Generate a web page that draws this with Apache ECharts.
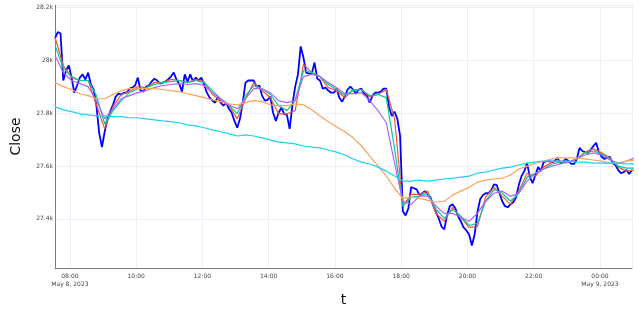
<!DOCTYPE html>
<html>
<head>
<meta charset="utf-8">
<script src="https://cdn.jsdelivr.net/npm/echarts@6/dist/echarts.min.js"></script>
<style>
  html, body { margin: 0; padding: 0; background: #fff; }
  #chart { width: 639px; height: 309px; }
</style>
</head>
<body>
<div id="chart"></div>
<script>
// 5 minute closes, starting 2023-05-08 07:33 (UTC)
const closeValues = [
    28084, 28107, 28103, 27924, 27962, 27981, 27935, 27878, 27905, 27935,
    27947, 27928, 27954, 27909, 27890, 27829, 27726, 27672, 27730, 27779,
    27806, 27832, 27863, 27874, 27871, 27878, 27878, 27893, 27897, 27905,
    27935, 27886, 27882, 27901, 27905, 27920, 27931, 27924, 27912, 27916,
    27920, 27928, 27939, 27954, 27928, 27912, 27882, 27947, 27920, 27947,
    27920, 27935, 27924, 27935, 27909, 27878, 27859, 27848, 27840, 27863,
    27840, 27829, 27840, 27817, 27802, 27771, 27745, 27779, 27840, 27916,
    27924, 27924, 27924, 27901, 27905, 27867, 27848, 27851, 27863, 27802,
    27771, 27802, 27821, 27798, 27794, 27741, 27832, 27901, 27947, 28053,
    28011, 27954, 27950, 27950, 27992, 27931, 27924, 27893, 27897, 27886,
    27878, 27878, 27893, 27859, 27844, 27863, 27890, 27901, 27890, 27874,
    27890, 27893, 27874, 27867, 27840, 27867, 27878, 27878, 27882, 27893,
    27893, 27825, 27790, 27806, 27779, 27714, 27429, 27413, 27440, 27520,
    27516, 27512, 27490, 27497, 27505, 27493, 27482, 27451, 27425, 27402,
    27371, 27360, 27413, 27448, 27455, 27440, 27410, 27391, 27368, 27356,
    27341, 27299, 27341, 27425, 27474, 27490, 27497, 27497, 27509, 27531,
    27528, 27497, 27467, 27448, 27444, 27455, 27463, 27482, 27528, 27562,
    27581, 27611, 27558, 27535, 27566, 27596, 27581, 27615, 27619, 27619,
    27615, 27619, 27631, 27611, 27615, 27627, 27619, 27608, 27608, 27627,
    27669, 27657, 27653, 27650, 27661, 27676, 27688, 27653, 27635, 27627,
    27631, 27635, 27611, 27604, 27585, 27573, 27577, 27585, 27570, 27585
];

// smoothed lines, read every 15 minutes from the same start
const redLine = [
    28088, 27981, 27935, 27924, 27924, 27832, 27741, 27825, 27871, 27882,
    27901, 27897, 27916, 27916, 27928, 27924, 27916, 27928, 27920, 27871,
    27848, 27829, 27779, 27855, 27916, 27886, 27859, 27798, 27798, 27810,
    27985, 27954, 27939, 27897, 27886, 27859, 27890, 27890, 27863, 27871,
    27890, 27779, 27448, 27493, 27493, 27505, 27421, 27391, 27444, 27406,
    27368, 27371, 27482, 27520, 27486, 27455, 27505, 27573, 27562, 27596,
    27615, 27619, 27615, 27627, 27653, 27665, 27650, 27631, 27596, 27581,
    27585
];
const greenLine = [
    28057, 27970, 27939, 27924, 27924, 27867, 27760, 27810, 27848, 27878,
    27893, 27897, 27909, 27916, 27920, 27924, 27916, 27924, 27916, 27886,
    27855, 27832, 27798, 27867, 27905, 27893, 27871, 27829, 27810, 27848,
    27962, 27954, 27939, 27909, 27890, 27867, 27886, 27890, 27867, 27871,
    27859, 27665, 27448, 27482, 27486, 27497, 27436, 27402, 27436, 27410,
    27375, 27383, 27467, 27512, 27497, 27467, 27497, 27558, 27573, 27589,
    27608, 27615, 27615, 27627, 27650, 27657, 27646, 27627, 27600, 27592,
    27592
];
const purpleLine = [
    28019, 27954, 27924, 27912, 27901, 27848, 27779, 27817, 27855, 27867,
    27878, 27886, 27897, 27905, 27909, 27912, 27909, 27912, 27905, 27878,
    27855, 27832, 27817, 27855, 27893, 27893, 27878, 27848, 27840, 27848,
    27939, 27947, 27939, 27916, 27897, 27874, 27874, 27878, 27848, 27810,
    27764, 27611, 27467, 27455, 27486, 27486, 27448, 27421, 27421, 27406,
    27391, 27421, 27467, 27497, 27505, 27486, 27497, 27543, 27573, 27589,
    27600, 27608, 27615, 27627, 27642, 27650, 27642, 27623, 27611, 27619,
    27631
];
const orangeLine = [
    27916, 27901, 27890, 27874, 27867, 27855, 27855, 27871, 27886, 27893,
    27893, 27893, 27893, 27890, 27886, 27882, 27874, 27867, 27859, 27851,
    27844, 27836, 27832, 27840, 27848, 27844, 27832, 27829, 27829, 27836,
    27832, 27813, 27790, 27768, 27749, 27730, 27707, 27676, 27638, 27600,
    27562, 27516, 27478, 27482, 27478, 27470, 27463, 27467, 27490, 27505,
    27520, 27539, 27547, 27551, 27554, 27566, 27589, 27600, 27611, 27619,
    27627, 27631, 27631, 27631, 27627, 27623, 27619, 27611, 27611, 27619,
    27623
];
const cyanLine = [
    27825, 27813, 27806, 27798, 27794, 27790, 27790, 27787, 27787, 27783,
    27783, 27779, 27775, 27771, 27768, 27764, 27756, 27752, 27745, 27737,
    27730, 27722, 27714, 27718, 27714, 27707, 27699, 27691, 27688, 27684,
    27676, 27672, 27669, 27661, 27653, 27642, 27627, 27615, 27608, 27596,
    27581, 27562, 27543, 27543, 27547, 27543, 27547, 27551, 27554, 27558,
    27562, 27573, 27577, 27585, 27592, 27596, 27604, 27611, 27615, 27619,
    27619, 27619, 27619, 27615, 27615, 27611, 27611, 27611, 27611, 27608,
    27608
];

const START = Date.UTC(2023, 4, 8, 7, 33);
const MIN = 60 * 1000;
const closeTimes = closeValues.map((_, i) => START + i * 5 * MIN);
const maTimes = redLine.map((_, i) => START + i * 15 * MIN);

const MONTHS = ['Jan', 'Feb', 'Mar', 'Apr', 'May', 'Jun', 'Jul', 'Aug', 'Sep', 'Oct', 'Nov', 'Dec'];
const pad = n => (n < 10 ? '0' : '') + n;

function makeLine(name, times, values, color, width) {
    return {
        name: name,
        type: 'line',
        data: values.map((v, i) => [times[i], v]),
        showSymbol: false,
        symbol: 'none',
        lineStyle: { color: color, width: width },
        itemStyle: { color: color }
    };
}

const chart = echarts.init(document.getElementById('chart'), null, { renderer: 'canvas' });

const option = {
    animation: false,
    useUTC: true,
    backgroundColor: '#ffffff',
    grid: { left: 55, right: 7, top: 5, bottom: 41, outerBoundsMode: 'none' },
    xAxis: {
        type: 'time',
        min: closeTimes[0],
        max: closeTimes[closeTimes.length - 1],
        splitNumber: 6,
        name: 't',
        nameLocation: 'middle',
        nameGap: 20,
        nameTextStyle: { fontFamily: 'DejaVu Sans', fontSize: 14, color: '#111' },
        axisLine: { show: true, lineStyle: { color: '#7f7f7f', width: 1 } },
        axisTick: { show: false },
        splitLine: { show: true, lineStyle: { color: '#ebf0f8', width: 1 } },
        axisLabel: {
            showMinLabel: false,
            showMaxLabel: false,
            fontFamily: 'DejaVu Sans',
            fontSize: 6,
            color: '#444',
            margin: 4,
            lineHeight: 8,
            formatter: function (val) {
                const d = new Date(val);
                const h = d.getUTCHours();
                let s = pad(h) + ':' + pad(d.getUTCMinutes());
                if (h === 0 || (h === 8 && d.getUTCDate() === 8)) {
                    s += '\n' + MONTHS[d.getUTCMonth()] + ' ' + d.getUTCDate() + ', ' + d.getUTCFullYear();
                }
                return s;
            }
        }
    },
    yAxis: {
        type: 'value',
        min: 27214,
        max: 28210,
        splitNumber: 5,
        name: 'Close',
        nameLocation: 'middle',
        nameGap: 32,
        nameRotate: 90,
        nameTextStyle: { fontFamily: 'DejaVu Sans', fontSize: 14, color: '#111' },
        axisLine: { show: true, lineStyle: { color: '#7f7f7f', width: 1 } },
        axisTick: { show: false },
        splitLine: { show: true, lineStyle: { color: '#ebf0f8', width: 1 } },
        axisLabel: {
            showMinLabel: false,
            showMaxLabel: false,
            fontFamily: 'DejaVu Sans',
            fontSize: 6,
            color: '#444',
            margin: 2,
            formatter: function (v) {
                return (v / 1000) + 'k';
            }
        }
    },
    series: [
        makeLine('Close', closeTimes, closeValues, '#0000ff', 1.8),
        makeLine('red', maTimes, redLine, '#EF553B', 1.2),
        makeLine('green', maTimes, greenLine, '#00CC96', 1.2),
        makeLine('purple', maTimes, purpleLine, '#AB63FA', 1.2),
        makeLine('orange', maTimes, orangeLine, '#FFA15A', 1.2),
        makeLine('cyan', maTimes, cyanLine, '#19D3F3', 1.2)
    ]
};

chart.setOption(option);

window.addEventListener('resize', function () {
    chart.resize();
});
</script>
</body>
</html>
